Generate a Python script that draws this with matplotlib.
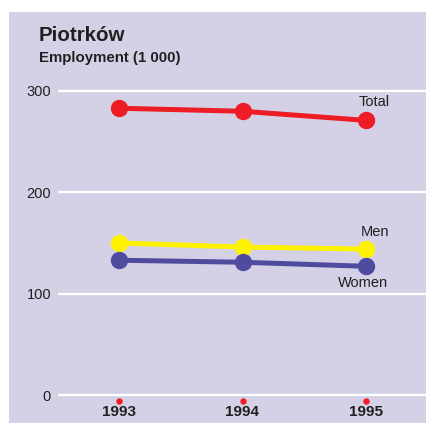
import matplotlib
matplotlib.use("Agg")
import matplotlib.pyplot as plt
import matplotlib.transforms as mtransforms
from matplotlib.patches import Rectangle

plt.rcParams['font.family'] = ['Liberation Sans', 'DejaVu Sans']

years = [1993, 1994, 1995]
total = [283, 280, 271]
men = [150, 146, 144]
women = [133, 131, 127]
y_ticks = [0, 100, 200, 300]
title = "Piotrków"
subtitle = "Employment (1 000)"

BG = "#d4d1e7"
RED = "#ee1c25"
YELLOW = "#fff200"
BLUE = "#4f4c9f"
TEXT = "#231f20"

W, H = 426, 423
fig = plt.figure(figsize=(W / 100, H / 100), dpi=100)
fig.patch.set_facecolor("white")

# lavender panel behind everything
bg_ax = fig.add_axes([0, 0, 1, 1], zorder=-5)
bg_ax.set_axis_off()
bg_ax.add_patch(Rectangle((9 / W, 0), 1 - 9 / W, 1 - 12 / H,
                          transform=bg_ax.transAxes, facecolor=BG,
                          edgecolor="none"))

# plot area spans the gridline region
left_px, right_px, top_px, bot_px = 58, 426, 12, 423
ax = fig.add_axes([left_px / W, 1 - bot_px / H,
                   (right_px - left_px) / W, (bot_px - top_px) / H])
ax.set_facecolor("none")

px_per_unit = (395 - 91) / 300
ax.set_ylim(-(bot_px - 395) / px_per_unit, (395 - top_px) / px_per_unit)
px_per_year = (366 - 119) / 2
ax.set_xlim(1993 - (119 - left_px) / px_per_year,
            1995 + (right_px - 366) / px_per_year)

for s in ax.spines.values():
    s.set_visible(False)

for v in y_ticks:
    ax.axhline(v, color="white", lw=1.6, zorder=1)

ax.set_yticks(y_ticks)
ax.set_yticklabels([str(v) for v in y_ticks], fontsize=10.5, color=TEXT)
ax.tick_params(axis="y", length=0, pad=5)
ax.set_xticks([])

lw, ms = 3.6, 11.5
ax.plot(years, total, color=RED, lw=lw, marker="o", ms=ms, zorder=3,
        solid_capstyle="butt")
ax.plot(years, men, color=YELLOW, lw=lw, marker="o", ms=ms, zorder=3,
        solid_capstyle="butt")
ax.plot(years, women, color=BLUE, lw=lw, marker="o", ms=ms, zorder=4,
        solid_capstyle="butt")

ax.annotate("Total", (years[-1], total[-1]), xytext=(8, 18),
            textcoords="offset pixels", ha="center", va="center",
            fontsize=10.5, color=TEXT)
ax.annotate("Men", (years[-1], men[-1]), xytext=(9, 17),
            textcoords="offset pixels", ha="center", va="center",
            fontsize=10.5, color=TEXT)
ax.annotate("Women", (years[-1], women[-1]), xytext=(-3, -16.5),
            textcoords="offset pixels", ha="center", va="center",
            fontsize=10.5, color=TEXT)

# year markers below the baseline
dot_tr = mtransforms.offset_copy(ax.transData, fig=fig, y=-6, units="dots")
ax.plot(years, [0] * len(years), ls="none", marker="o", ms=3.6,
        color=RED, transform=dot_tr, zorder=3)
for yr in years:
    ax.annotate(str(yr), (yr, 0), xytext=(0, -17), textcoords="offset pixels",
                ha="center", va="center", fontsize=11, fontweight="bold",
                color=TEXT)

fig.text(39 / W, 1 - 41 / H, title, fontsize=14.8, fontweight="bold",
         color=TEXT, ha="left", va="baseline")
fig.text(39 / W, 1 - 62 / H, subtitle, fontsize=10.8, fontweight="bold",
         color=TEXT, ha="left", va="baseline")

fig.savefig("out.png", dpi=100, facecolor="white")
